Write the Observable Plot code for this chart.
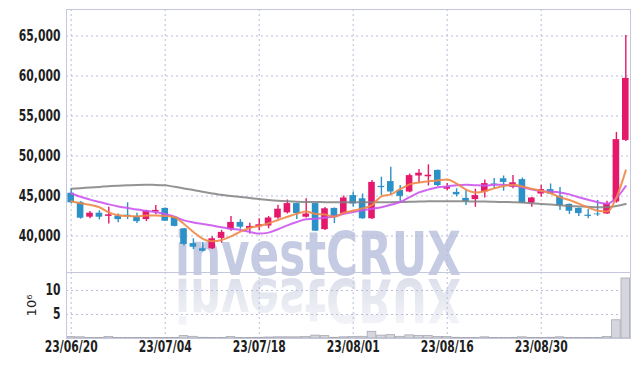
<!DOCTYPE html>
<html><head><meta charset="utf-8">
<script src="https://cdn.jsdelivr.net/npm/d3@7"></script>
<script src="https://cdn.jsdelivr.net/npm/@observablehq/plot@0.6"></script>
<style>
body{margin:0;background:#fff;}
#wrap{position:relative;width:639px;height:366px;overflow:hidden;}
#wm{position:absolute;left:0;top:0;}
#charts{position:absolute;left:0;top:0;}
#charts svg{display:block;}
</style></head><body>
<div id="wrap">
<svg id="wm" width="639" height="366">
<defs>
<linearGradient id="fade" x1="0" y1="0" x2="0" y2="1"><stop offset="0" stop-color="#fff" stop-opacity="1"/><stop offset="1" stop-color="#fff" stop-opacity="0.3"/></linearGradient>
<mask id="m"><rect x="0" y="277" width="639" height="50" fill="url(#fade)"/></mask>
</defs>
<text x="175" y="275" font-family="'Liberation Sans Narrow','DejaVu Sans Condensed',sans-serif" font-weight="bold" font-size="60" fill="#c5cbe2" textLength="286" lengthAdjust="spacingAndGlyphs">investCRUX</text>
<g mask="url(#m)"><text transform="translate(0,554) scale(1,-1)" x="175" y="275" font-family="'Liberation Sans Narrow','DejaVu Sans Condensed',sans-serif" font-weight="bold" font-size="60" fill="#dcdfeb" textLength="286" lengthAdjust="spacingAndGlyphs">investCRUX</text></g>
</svg>
<div id="charts"></div>
</div>
<script>
const dates = ["23/06/20","23/06/21","23/06/22","23/06/23","23/06/26","23/06/27","23/06/28","23/06/29","23/06/30","23/07/03",
"23/07/04","23/07/05","23/07/06","23/07/07","23/07/10","23/07/11","23/07/12","23/07/13","23/07/14","23/07/17",
"23/07/18","23/07/19","23/07/20","23/07/21","23/07/24","23/07/25","23/07/26","23/07/27","23/07/28","23/07/31",
"23/08/01","23/08/02","23/08/03","23/08/04","23/08/07","23/08/08","23/08/09","23/08/10","23/08/11","23/08/14",
"23/08/16","23/08/17","23/08/18","23/08/21","23/08/22","23/08/23","23/08/24","23/08/25","23/08/28","23/08/29",
"23/08/30","23/08/31","23/09/01","23/09/04","23/09/05","23/09/06","23/09/07","23/09/08","23/09/11","23/09/12"];
const open = [45350,44200,42350,42850,42450,42500,42600,42450,42050,43000,
43450,42350,40900,39050,38400,38400,39700,40800,41700,40950,
41150,41250,42250,42900,44050,42350,44050,40800,43450,42800,
45050,44650,42150,46200,46800,45700,45500,47500,47400,48200,
45850,45450,44700,44550,45500,46500,47150,46100,47050,44100,
45250,45800,44950,43950,43450,42600,42750,42750,44250,51950];
const high = [45800,44300,43050,43150,43600,42750,44150,42850,43200,43800,
43500,42450,40950,39650,39200,39900,40700,42450,42050,41600,
42150,42450,43850,44500,44100,44650,44100,43550,43500,45000,
45500,45250,46950,47350,48600,46300,47750,48300,48900,48250,
46550,45900,45700,45850,47000,47200,47500,47550,47250,44800,
46350,46500,46050,44000,43500,43300,44450,44350,52950,65050];
const low = [44000,42100,42150,42000,41500,41650,42050,41550,41800,42650,
41800,41150,38750,38300,38000,38300,39100,40600,40850,40250,
40700,40900,42100,42750,42050,42250,40550,40700,41550,42650,
43600,42100,42050,45050,45050,44250,45400,46600,46250,46200,
45650,44900,43800,43600,44750,45850,45600,45900,44050,43600,
44850,45200,43200,42700,42450,42150,42450,42700,44100,51800];
const close = [44150,42225,42850,42350,42650,42050,42450,41800,43100,43200,
41850,41200,38950,38600,38100,39650,40450,41700,41100,41200,
41400,42250,43350,44050,42800,42750,40600,43400,42450,44750,
44000,42150,46700,46050,45500,44950,47550,47850,47600,46300,
46100,45150,44300,45050,46550,46400,46700,46650,44100,44750,
45800,45250,43800,43100,42800,42450,42650,44050,52050,59700];
const volume = [0.3,0.25,0.1,0.1,0.3,0.1,0.1,0.1,0.1,0.1,
0.1,0.1,0.5,0.35,0.15,0.1,0.1,0.3,0.1,0.1,
0.15,0.2,0.25,0.25,0.25,0.3,0.6,0.5,0.15,0.25,
0.3,0.35,1.4,0.6,0.7,0.35,0.65,0.55,0.55,0.3,
0.3,0.15,0.1,0.1,0.25,0.1,0.1,0.1,0.25,0.1,
0.1,0.15,0.25,0.1,0.1,0.1,0.1,0.3,3.8,12.5];
const ma5 = [44350,44100,43900,43600,42950,42600,42500,42450,42550,42550,
42500,42350,41500,40500,39650,39350,39500,39950,40550,41000,
41250,41600,42000,42400,42780,43050,42750,42700,42400,42900,
43150,43450,43850,44950,45200,45850,46450,46700,46850,46950,
47050,46550,45800,45450,45600,45950,46250,46400,46200,45900,
45650,45350,44850,44500,44050,43550,43150,43050,44800,48200];
const ma10 = [45350,44900,44550,44250,43950,43700,43500,43300,43150,43000,
42750,42400,41950,41700,41500,41300,41100,40900,40750,40500,
40300,40420,40850,41330,41750,42100,42150,42300,42450,42780,
43000,43200,43400,43600,43900,44250,44850,45450,45800,46100,
46200,46350,46420,46350,46300,46400,46400,46300,46100,45800,
45600,45550,45450,45200,44850,44520,44230,44030,44750,46250];
const ma60 = [45900,45980,46060,46140,46220,46290,46340,46380,46400,46390,
46330,46150,45950,45750,45520,45300,45150,45000,44880,44750,
44620,44500,44400,44330,44280,44260,44240,44230,44220,44220,
44220,44220,44220,44220,44230,44250,44280,44300,44330,44350,
44350,44350,44330,44300,44300,44280,44250,44230,44200,44100,
44000,43950,43850,43750,43700,43650,43600,43600,43750,44000];
const tickDates = ["23/06/20","23/07/04","23/07/18","23/08/01","23/08/16","23/08/30"];
const priceTicks = [40000,45000,50000,55000,60000,65000];
const volTicks = [5,10];

const rows = dates.map((d,i)=>({date:d,open:open[i],high:high[i],low:low[i],close:close[i],vol:volume[i],ma5:ma5[i],ma10:ma10[i],ma60:ma60[i],up:close[i]>=open[i]}));
const pink = "#e5196c", blue = "#2c91c7";
const font = "'Liberation Sans Narrow','DejaVu Sans Condensed',sans-serif";
const grid = {stroke:"#b9bdd9", strokeOpacity:1, strokeDasharray:"2,3"};
const baseStyle = {background:"transparent", fontFamily:font, fontSize:"15px", color:"#222"};

const price = Plot.plot({
  width:639, height:272, marginTop:9, marginBottom:0, marginLeft:66, marginRight:9,
  style:baseStyle,
  x:{type:"band", domain:dates, padding:0, round:false, axis:null},
  y:{domain:[35437.5,68312.5], ticks:priceTicks, tickFormat:d3.format(","), tickSize:0, tickPadding:6, label:null},
  marks:[
    Plot.gridY(priceTicks, grid),
    Plot.gridX(tickDates, grid),
    Plot.frame({stroke:"#c5c8dc"}),
    Plot.ruleX(rows,{x:"date", y1:"low", y2:"high", stroke:d=>d.up?pink:blue, strokeWidth:1.4}),
    Plot.barY(rows,{x:"date", y1:"open", y2:"close", fill:d=>d.up?pink:blue, insetLeft:1.4, insetRight:1.4}),
    Plot.line(rows,{x:"date", y:"ma60", stroke:"#808080", strokeWidth:2, strokeOpacity:0.85, curve:"monotone-x"}),
    Plot.line(rows,{x:"date", y:"ma10", stroke:"#cc55ee", strokeWidth:2, strokeOpacity:0.9, curve:"monotone-x"}),
    Plot.line(rows,{x:"date", y:"ma5", stroke:"#f08848", strokeWidth:2, strokeOpacity:0.9, curve:"monotone-x"})
  ]
});

const vol = Plot.plot({
  width:639, height:94, marginTop:0, marginBottom:28, marginLeft:66, marginRight:9,
  style:baseStyle,
  x:{type:"band", domain:dates, padding:0, round:false, ticks:tickDates, tickSize:0, tickPadding:3, label:null},
  y:{domain:[0,13.75], ticks:volTicks, tickSize:0, tickPadding:6, label:"10⁶", labelAnchor:"center", labelArrow:"none", labelOffset:40},
  marks:[
    Plot.gridY(volTicks, grid),
    Plot.gridX(tickDates, grid),
    Plot.barY(rows,{x:"date", y:"vol", fill:"#d5d5dd", stroke:"#a8a8b2", strokeWidth:0.8, insetLeft:0.4, insetRight:0.4}),
    Plot.frame({stroke:"#c5c8dc"})
  ]
});

const host = document.getElementById("charts");
host.appendChild(price);
host.appendChild(vol);
d3.select(vol).selectAll('[aria-label="y-axis label"] text').style("font-family","'DejaVu Sans',sans-serif").style("font-size","13px");
for (const svg of [price, vol]) {
  d3.select(svg).selectAll('[aria-label="y-axis tick label"] text, [aria-label="x-axis tick label"] text')
    .each(function(){
      const t = this.getAttribute("transform") || "";
      this.setAttribute("transform", t + " scale(0.8,1)");
    })
    .style("fill","#1e1e1e")
    .style("font-weight","bold");
}
</script>
</body></html>
